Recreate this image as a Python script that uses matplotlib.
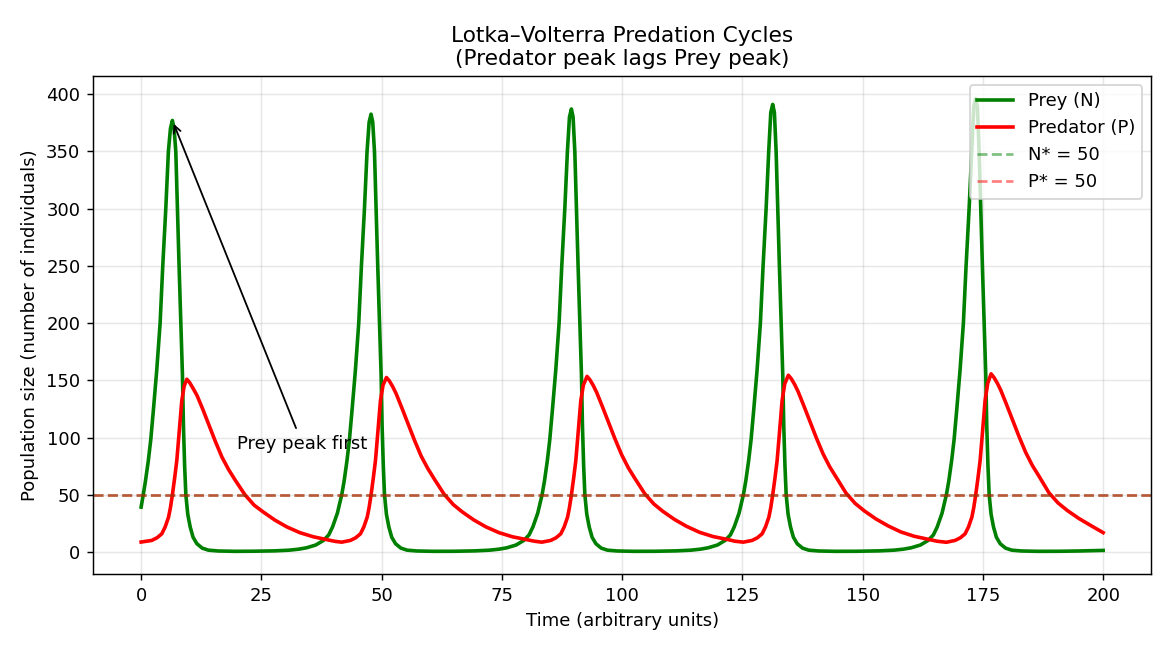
import numpy as np
import matplotlib
matplotlib.use("Agg")
import matplotlib.pyplot as plt

# values (time, population)
prey_t = [0, 0.48, 0.9, 1.5, 2.0, 2.55, 3.25, 3.95, 4.5, 5.13, 5.67, 6.1, 6.5, 6.85, 7.21, 7.54, 7.89, 8.25,
          8.59, 8.8, 9.05, 9.3, 9.7, 10.2, 10.8, 11.6, 12.7, 14.0, 16.0, 19.5, 23.5,
          27.8, 30.8, 32.8, 34.4, 36.3, 37.9, 39.0, 39.8, 40.8, 41.7,
          42.2, 42.8, 43.3, 43.85, 44.55, 45.24, 45.8, 46.43, 46.97, 47.4, 47.8, 48.15, 48.51, 48.84, 49.19,
          49.55, 49.89, 50.1, 50.35, 50.6, 51.0, 51.5, 52.1, 52.9, 54.0, 55.3, 57.3, 60.8, 65.0,
          69.45, 72.45, 74.45, 76.05, 77.95, 79.55, 80.65, 81.45, 82.45, 83.35,
          83.85, 84.45, 84.95, 85.5, 86.2, 86.89, 87.45, 88.08, 88.62, 89.05, 89.45, 89.8, 90.16, 90.49, 90.84,
          91.2, 91.54, 91.75, 92.0, 92.25, 92.65, 93.15, 93.75, 94.55, 95.65, 96.95, 98.95, 102.45, 106.8,
          111.3, 114.3, 116.3, 117.9, 119.8, 121.4, 122.5, 123.3, 124.3, 125.2,
          125.7, 126.3, 126.8, 127.35, 128.05, 128.74, 129.3, 129.93, 130.47, 130.9, 131.3, 131.65, 132.01,
          132.34, 132.69, 133.05, 133.39, 133.6, 133.85, 134.1, 134.5, 135.0, 135.6, 136.4, 137.5, 138.8,
          140.8, 144.3, 148.8,
          153.5, 156.5, 158.5, 160.1, 162.0, 163.6, 164.7, 165.5, 166.5, 167.4,
          167.9, 168.5, 169.0, 169.55, 170.25, 170.94, 171.5, 172.13, 172.67, 173.1, 173.5, 173.85, 174.21,
          174.54, 174.89, 175.25, 175.59, 175.8, 176.05, 176.3, 176.7, 177.2, 177.8, 178.6, 179.7, 181.0,
          183.0, 186.5, 191.0, 195.0, 200.0]
prey_n = [39.3, 51, 62, 80, 98, 124, 159, 200, 250, 300, 350, 370, 377, 370, 350, 300, 250, 200,
          155, 110, 75, 50, 33, 22, 13, 7.3, 3.5, 1.7, 1.0, 0.7, 0.8,
          1.1, 1.7, 2.6, 3.8, 6.2, 10.2, 15, 22, 34, 50,
          62, 80, 98, 124, 159, 200, 250, 300, 350, 375.5, 382.5, 375.5, 350, 300, 250,
          200, 155, 110, 75, 50, 33, 22, 13, 7.3, 3.5, 1.7, 1.0, 0.7, 0.75,
          1.1, 1.7, 2.6, 3.8, 6.2, 10.2, 15, 22, 34, 50,
          62, 80, 98, 124, 159, 200, 250, 300, 350, 380, 387, 380, 350, 300, 250,
          200, 155, 110, 75, 50, 33, 22, 13, 7.3, 3.5, 1.7, 1.0, 0.7, 0.75,
          1.1, 1.7, 2.6, 3.8, 6.2, 10.2, 15, 22, 34, 50,
          62, 80, 98, 124, 159, 200, 250, 300, 350, 384, 391, 384, 350,
          300, 250, 200, 155, 110, 75, 50, 33, 22, 13, 7.3, 3.5, 1.7,
          1.0, 0.7, 0.75,
          1.1, 1.7, 2.6, 3.8, 6.2, 10.2, 15, 22, 34, 50,
          62, 80, 98, 124, 159, 200, 250, 300, 350, 389, 396, 389, 350,
          300, 250, 200, 155, 110, 75, 50, 33, 22, 13, 7.3, 3.5, 1.7,
          1.0, 0.7, 0.75, 1.0, 1.5]

pred_t = [0, 2.2, 3.3, 4.3, 5.0, 5.7, 6.1, 6.5, 6.95, 7.42, 7.95, 8.46, 8.95, 9.5, 10.1, 10.8, 11.6, 12.8,
          14.0, 15.4, 16.8, 18.2, 19.6, 21.6, 23.5, 25.4, 27.8, 30.3, 33.0, 35.8, 38.5, 40.3, 41.7,
          43.5, 44.6, 45.6, 46.3, 47.0, 47.4, 47.8, 48.25, 48.72, 49.25, 49.76, 50.3, 51.0, 51.6, 52.3, 53.0,
          54.2, 55.4, 56.8, 58.2, 59.6, 61.0, 63.0, 64.9, 66.8, 69.2, 71.7, 74.4, 77.2, 80.0, 81.8, 83.3,
          85.15, 86.25, 87.25, 87.95, 88.65, 89.05, 89.45, 89.9, 90.37, 90.9, 91.41, 91.95, 92.7, 93.3, 94.0,
          94.7, 95.9, 97.1, 98.5, 99.9, 101.3, 102.7, 104.7, 106.6, 108.5, 110.9, 113.4, 116.1, 118.9, 121.7,
          123.5, 125.2,
          127.0, 128.1, 129.1, 129.8, 130.5, 130.9, 131.3, 131.75, 132.22, 132.75, 133.26, 133.8, 134.55,
          135.15, 135.85, 136.55, 137.75, 138.95, 140.35, 141.75, 143.15, 144.55, 146.55, 148.45, 150.35,
          152.75, 155.25, 157.95, 160.75, 163.55, 165.5, 167.4,
          169.2, 170.3, 171.3, 172.0, 172.7, 173.1, 173.5, 173.95, 174.42, 174.95, 175.46, 176.0, 176.7,
          177.3, 178.0, 178.7, 179.9, 181.1, 182.5, 183.9, 185.3, 186.7, 188.7, 190.6, 192.5, 194.9, 197.4,
          200.0]
pred_p = [8.8, 10.2, 12.5, 16, 22, 30.5, 39, 50, 64, 80, 107, 132.5, 145, 151, 148, 143, 137, 125,
          112, 97, 83, 72, 62.6, 50, 41, 35, 28, 22, 17, 13.4, 11, 9.4, 8.7,
          10.2, 12.5, 16, 22, 30.5, 39, 50, 64, 80, 107, 132.5, 146, 152.5, 149.5, 144.5, 138.5,
          126, 113, 98, 84, 73, 63.5, 50.5, 41.5, 35, 28, 22, 17, 13.4, 11, 9.5, 8.7,
          10.2, 12.5, 16, 22, 30.5, 39, 50, 64, 80, 107, 132.5, 146, 153.5, 150.5, 145.5,
          139.5, 127, 114, 99, 85, 73.5, 64, 51, 42, 35.5, 28.5, 22.5, 17.3, 13.6, 11.2,
          9.5, 8.7,
          10.2, 12.5, 16, 22, 30.5, 39, 50, 64, 80, 107, 132.5, 147, 154.5,
          151.5, 146.5, 140.5, 128, 115, 100, 86, 74.5, 65, 51.5, 42.5, 36,
          29, 23, 17.6, 13.8, 11.3, 9.5, 8.6,
          10.2, 12.5, 16, 22, 30.5, 39, 50, 64, 80, 107, 132.5, 147.5, 155.7,
          152.5, 147.5, 141.5, 129, 116, 101, 87, 75.5, 66, 52, 43, 36.5, 29.5, 23.3,
          17]

n_star = 50
p_star = 50

fig, ax = plt.subplots(figsize=(9, 5), dpi=130)
fig.subplots_adjust(left=0.0795, right=0.984, top=0.883, bottom=0.117)

ax.plot(prey_t, prey_n, color='green', lw=2, label='Prey (N)')
ax.plot(pred_t, pred_p, color='red', lw=2, label='Predator (P)')
ax.axhline(n_star, color='green', ls='--', lw=1.5, alpha=0.5, label='N* = %d' % n_star)
ax.axhline(p_star, color='red', ls='--', lw=1.5, alpha=0.5, label='P* = %d' % p_star)

# arrow to the first prey peak
i_peak = int(np.argmax(prey_n[:30]))
ax.annotate('Prey peak first', xy=(prey_t[i_peak], prey_n[i_peak]), xytext=(20, 90),
            arrowprops=dict(arrowstyle='->', color='black', lw=1))

ax.set_xlabel('Time (arbitrary units)')
ax.set_ylabel('Population size (number of individuals)')
ax.set_title('Lotka\u2013Volterra Predation Cycles\n(Predator peak lags Prey peak)', fontsize=12)
ax.grid(True, alpha=0.3)
ax.legend(loc='upper right')

fig.savefig('out.png', dpi=130)
